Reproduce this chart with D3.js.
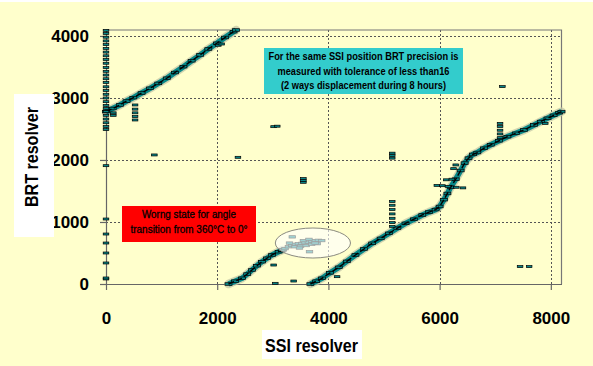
<!DOCTYPE html>
<html>
<head>
<meta charset="utf-8">
<script src="https://cdn.jsdelivr.net/npm/d3@7"></script>
<style>
  html, body { margin: 0; padding: 0; background: #FFFFCC; }
  svg { display: block; }
  text { font-family: "Liberation Sans", Arial, Helvetica, sans-serif; }
</style>
</head>
<body>
<svg id="chart" width="593" height="366"></svg>
<script>
// ---- data: SSI resolver reading vs BRT resolver reading ----
const xTicks = [0, 2000, 4000, 6000, 8000];
const yTicks = [0, 1000, 2000, 3000, 4000];

// continuous runs of samples (SSI, BRT)
const runA = [[0,2779],[120,2830],[252,2887],[370,2950],[492,3005],[640,3080],[793,3156],[940,3235],
  [1093,3318],[1240,3410],[1393,3505],[1540,3600],[1694,3694],[1840,3790],[1994,3882],[2140,3975],
  [2294,4069],[2340,4096]];
const runB = [[2203,0],[2320,45],[2445,92],[2540,160],[2625,226],[2715,295],[2805,360],[2895,415],
  [2985,468],[3105,521],[3180,550]];
const runC = [[3676,0],[3780,45],[3886,92],[4030,180],[4186,269],[4330,365],[4486,468],[4640,565],
  [4787,656],[4940,735],[5087,817],[5240,900],[5387,978],[5540,1045],[5688,1113],[5810,1160],
  [5928,1200],[6000,1250],[6078,1360],[6140,1460],[6198,1560],[6290,1690],[6378,1830],[6450,1950],
  [6520,2030],[6600,2090],[6678,2120],[6800,2190],[6919,2245],[7070,2310],[7219,2376],[7370,2430],
  [7519,2484],[7700,2565],[7820,2620],[7940,2672],[8050,2720],[8150,2763],[8192,2780]];

// readings during the 360° -> 0° transition
const transition = [[3160,545],[3220,570],[3280,600],[3340,620],[3400,640],[3460,650],[3520,655],
  [3580,665],[3640,675],[3700,690],[3760,700],[3820,705],[3880,700],[3400,600],[3500,610],
  [3600,620],[3700,640],[3800,650],[3550,700],[3650,720],[3350,760],[3660,520],[3480,580],
  [3300,660],[3760,660]];

// isolated readings
const outliers = [
  [0,2490],[0,2540],[0,2600],[0,2660],[0,2720],[0,2780],[0,2830],[0,2880],[0,2940],[0,3000],
  [0,3060],[0,3120],[0,3180],[0,3250],[0,3310],[0,3370],[0,3430],[0,3490],[0,3560],[0,3620],
  [0,3680],[0,3740],[0,3800],[0,3860],[0,3920],[0,3980],[0,4040],[0,4090],
  [0,81],[0,97],[0,339],[0,500],[0,661],[0,806],[0,1048],[0,1908],
  [523,2645],[523,2700],[523,2760],[523,2820],[523,2887],[132,2720],[132,2760],
  [870,2081],[2373,2043],[3014,2537],[3080,2545],[2020,3850],[2080,3870],
  [3550,1640],[3550,1670],[3550,1700],
  [5148,2030],[5148,2070],[5148,2110],
  [5148,930],[5148,990],[5148,1060],[5148,1130],[5148,1200],[5148,1270],[5148,1330],
  [7087,2360],[7087,2420],[7087,2480],[7087,2540],[7087,2590],
  [7129,3183],[7447,280],[7610,280],
  [3045,11],[3375,48],[3015,306],[4156,118],
  [5950,1590],[6050,1585],[6150,1575],[6300,1560],[6420,1550],[6120,1680],[6220,1690],
  [6290,1920],[6250,1860],[7900,2590]];

const noteText = ["For the same SSI position BRT precision is",
                  "measured with tolerance of less than16",
                  "(2 ways displacement during 8 hours)"];
const warnText = ["Worng state for angle", "transition from 360°C to 0°"];

// ---- drawing ----
const svg = d3.select("#chart");
const x = d3.scaleLinear().domain([0, 8192]).range([106, 561.5]);
const y = d3.scaleLinear().domain([0, 4096]).range([284, 30]);

const teal = "#078787";

svg.append("rect").attr("x", 0).attr("y", 0).attr("width", 593).attr("height", 366).attr("fill", "#FFFFCC");
svg.append("rect").attr("x", 0).attr("y", 0).attr("width", 593).attr("height", 2).attr("fill", "#ffffff");

// dotted grid
const grid = svg.append("g").attr("stroke", "#555").attr("stroke-width", 1).attr("stroke-dasharray", "2,2");
grid.selectAll("line.h").data(yTicks.filter(d => d > 0)).join("line")
  .attr("x1", x(0)).attr("x2", x(8192))
  .attr("y1", d => Math.round(y(d)) + 0.5).attr("y2", d => Math.round(y(d)) + 0.5);
grid.selectAll("line.v").data(xTicks.filter(d => d > 0)).join("line")
  .attr("y1", y(0)).attr("y2", y(4096))
  .attr("x1", d => Math.round(x(d)) + 0.5).attr("x2", d => Math.round(x(d)) + 0.5);

// plot frame (top, right)
svg.append("path")
  .attr("d", `M${x(0)},${y(4096)}H${x(8192)}V${y(0)}`)
  .attr("fill", "none").attr("stroke", "#777").attr("stroke-width", 1.2);

// axes
const yAxis = svg.append("g").attr("transform", `translate(${x(0)},0)`)
  .call(d3.axisLeft(y).tickValues(yTicks).tickFormat(d3.format("d")).tickSize(6).tickSizeOuter(0).tickPadding(11));
const xAxis = svg.append("g").attr("transform", `translate(0,${y(0)})`)
  .call(d3.axisBottom(x).tickValues(xTicks).tickFormat(d3.format("d")).tickSize(6).tickSizeOuter(0).tickPadding(22));
[yAxis, xAxis].forEach(g => {
  g.select(".domain").attr("stroke", "#666").attr("stroke-width", 1.2);
  g.selectAll(".tick line").attr("stroke", "#666").attr("stroke-width", 1.2);
  g.selectAll(".tick text").attr("fill", "#000").attr("font-size", 17).attr("font-weight", "bold")
    .style("font-family", '"Liberation Sans", Arial, sans-serif');
});

// data marks
const line = d3.line().x(d => x(d[0])).y(d => y(d[1]));
const runs = [runA, runB, runC];
const marks = svg.append("g");
marks.selectAll("path.halo").data(runs).join("path")
  .attr("d", line).attr("fill", "none").attr("stroke", "#c3c7a7").attr("stroke-opacity", 0.75)
  .attr("stroke-width", 8.5).attr("stroke-linejoin", "round").attr("stroke-linecap", "round");
marks.selectAll("path.band").data(runs).join("path")
  .attr("d", line).attr("fill", "none").attr("stroke", teal)
  .attr("stroke-width", 5.5).attr("stroke-linejoin", "round");

function drawMarkers(g, data, w, h) {
  g.selectAll("rect").data(data).join("rect")
    .attr("x", d => x(d[0]) - w / 2).attr("y", d => y(d[1]) - h / 2)
    .attr("width", w).attr("height", h)
    .attr("fill", teal).attr("stroke", "#000").attr("stroke-width", 0.7);
}
drawMarkers(marks.append("g"), runs.flat(), 7, 2.6);
marks.selectAll("path.core").data(runs).join("path")
  .attr("d", line).attr("fill", "none").attr("stroke", "#000")
  .attr("stroke-width", 1.4).attr("stroke-dasharray", "6,2.5");
drawMarkers(svg.append("g"), transition, 6.5, 2.4);
drawMarkers(svg.append("g"), outliers, 5.6, 2);

// highlight of the transition readings
const ex = x(3721), ey = y(661);
svg.append("ellipse")
  .attr("cx", ex).attr("cy", ey)
  .attr("rx", x(3721 + 676) - ex).attr("ry", y(661 - 242) - ey)
  .attr("fill", "#ffffff").attr("fill-opacity", 0.62)
  .attr("stroke", "#8a8a80").attr("stroke-width", 1);

// notes
svg.append("rect").attr("x", 264).attr("y", 48).attr("width", 199).attr("height", 46).attr("fill", "#33CCCC");
svg.append("g").selectAll("text").data(noteText).join("text")
  .attr("x", 363.5).attr("y", (d, i) => 60 + i * 14.7)
  .attr("text-anchor", "middle").attr("font-size", 10.5).attr("font-weight", "bold").attr("fill", "#000")
  .attr("textLength", (d, i) => [190, 172, 165][i]).attr("lengthAdjust", "spacingAndGlyphs")
  .text(d => d);

svg.append("rect").attr("x", 122).attr("y", 206).attr("width", 134).attr("height", 36).attr("fill", "#FF0000");
svg.append("g").selectAll("text").data(warnText).join("text")
  .attr("x", 189).attr("y", (d, i) => 218.3 + i * 15)
  .attr("text-anchor", "middle").attr("font-size", 10.7).attr("fill", "#000")
  .attr("stroke", "#000").attr("stroke-width", 0.3)
  .attr("textLength", (d, i) => [94, 117][i]).attr("lengthAdjust", "spacingAndGlyphs")
  .text(d => d);

// axis titles
svg.append("rect").attr("x", 14).attr("y", 94).attr("width", 40).attr("height", 143).attr("fill", "#ffffff");
svg.append("text")
  .attr("transform", "translate(38.3,157) rotate(-90)")
  .attr("text-anchor", "middle").attr("font-size", 18.5).attr("font-weight", "bold").attr("fill", "#000")
  .attr("textLength", 100).attr("lengthAdjust", "spacingAndGlyphs")
  .text("BRT resolver");

svg.append("rect").attr("x", 262).attr("y", 330).attr("width", 100).attr("height", 29).attr("fill", "#ffffff");
svg.append("text")
  .attr("x", 311.5).attr("y", 352)
  .attr("text-anchor", "middle").attr("font-size", 18.5).attr("font-weight", "bold").attr("fill", "#000")
  .attr("textLength", 93).attr("lengthAdjust", "spacingAndGlyphs")
  .text("SSI resolver");
</script>
</body>
</html>
